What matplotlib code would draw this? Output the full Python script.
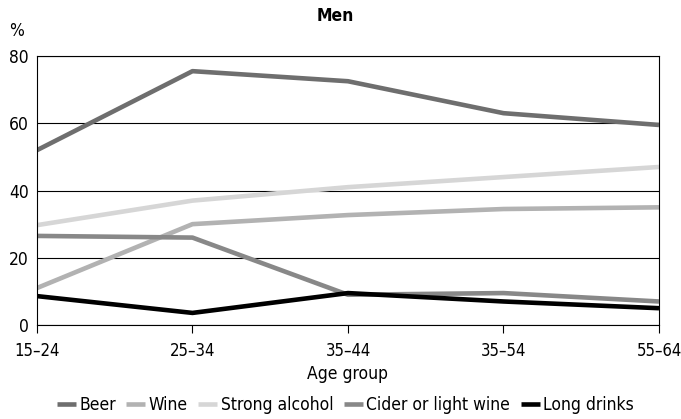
import numpy as np
import matplotlib.pyplot as plt

plt.rcParams['font.family'] = ['DejaVu Sans']
plt.rcParams['font.stretch'] = 'condensed'

age_groups = ['15–24', '25–34', '35–44', '35–54', '55–64']
beer = [52, 75.5, 72.5, 63, 59.5]
wine = [11, 30, 32.7, 34.5, 35]
strong = [29.7, 37, 41, 44, 47]
cider = [26.5, 26, 9, 9.5, 7]
long_drinks = [8.6, 3.6, 9.5, 7, 5]

series = [
    ('Beer', beer, '#6e6e6e'),
    ('Wine', wine, '#b2b2b2'),
    ('Strong alcohol', strong, '#d6d6d6'),
    ('Cider or light wine', cider, '#888888'),
    ('Long drinks', long_drinks, '#000000'),
]

fig = plt.figure(figsize=(6.81, 4.19), dpi=100)
ax = fig.add_axes([0.0543, 0.2243, 0.9134, 0.642])

x = np.arange(len(age_groups))
for name, vals, col in series:
    ax.plot(x, vals, color=col, lw=3.3, label=name, solid_capstyle='butt')

ax.set_xlim(0, 4)
ax.set_ylim(0, 80)
ax.set_yticks([0, 20, 40, 60, 80])
ax.set_xticks(x)
ax.set_xticklabels(age_groups)
ax.grid(axis='y', color='black', lw=0.8)
ax.set_axisbelow(True)
for s in ax.spines.values():
    s.set_linewidth(0.8)
ax.tick_params(axis='y', length=0, labelsize=12.5, pad=6)
ax.tick_params(axis='x', length=6, width=0.8, labelsize=12, pad=6)
ax.set_xlabel('Age group', fontsize=12.5, labelpad=4)
ax.text(-0.045, 1.06, '%', transform=ax.transAxes, fontsize=12.5, ha='left', va='bottom')
fig.text(0.492, 0.962, 'Men', fontsize=12.5, fontweight='bold', ha='center', va='center')

fig.legend(loc='lower center', bbox_to_anchor=(0.507, -0.025), ncol=5, frameon=False,
           fontsize=12.5, handlelength=1.1, handletextpad=0.2, columnspacing=0.6)

fig.savefig('out.png', dpi=100)
